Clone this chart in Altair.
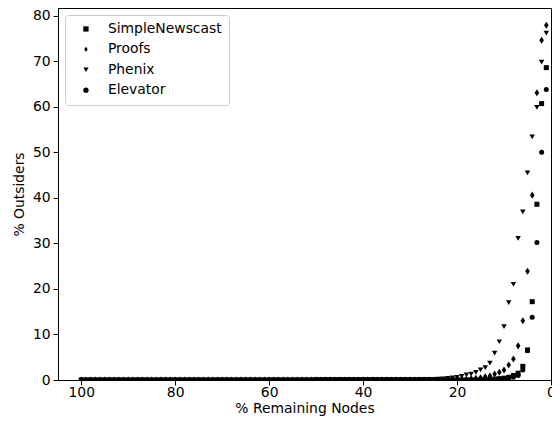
import altair as alt
import pandas as pd

# % remaining nodes (1 .. 100)
remaining = list(range(1, 101))

series_names = ["SimpleNewscast", "Proofs", "Phenix", "Elevator"]

newscast = [68.6, 60.7, 38.6, 17.2, 6.6, 3.0, 1.5, 1.0, 0.6, 0.4, 0.3, 0.2, 0.1, 0.05] + [0.0] * 86
proofs = [77.9, 74.6, 63.1, 40.6, 23.9, 13.0, 7.5, 4.6, 3.3, 2.2, 1.7, 1.3, 0.9, 0.7,
          0.5, 0.35, 0.25, 0.15, 0.1, 0.05] + [0.0] * 80
phenix = [76.2, 69.8, 59.9, 53.4, 45.5, 36.9, 31.1, 21.0, 17.0, 11.7, 8.4, 5.9, 3.7, 2.7,
          2.2, 1.7, 1.3, 1.1, 0.8, 0.6, 0.45, 0.35, 0.25, 0.2, 0.15,
          0.12, 0.12, 0.1, 0.1, 0.1, 0.1, 0.1, 0.1, 0.1, 0.1, 0.1, 0.1, 0.1, 0.1, 0.1,
          0.1, 0.1, 0.1, 0.1, 0.1, 0.1, 0.1, 0.1, 0.1, 0.1] + [0.0] * 50
elevator = [63.8, 50.0, 30.2, 13.8, 6.4, 2.2, 1.0, 0.6, 0.4, 0.25, 0.15, 0.1] + [0.0] * 88

x_ticks = [0, 20, 40, 60, 80, 100]
y_ticks = [0, 10, 20, 30, 40, 50, 60, 70, 80]

rows = []
for name, vals in zip(series_names, [newscast, proofs, phenix, elevator]):
    for x, v in zip(remaining, vals):
        rows.append({"remaining": x, "outsiders": v, "series": name})
df = pd.DataFrame(rows)

thin_diamond = "M0,-1L0.65,0L0,1L-0.65,0Z"
shapes = ["square", thin_diamond, "triangle-down", "circle"]
sizes = [25, 50, 30, 25]
FS = 13.9

legend_cfg = dict(title=None, orient="none", legendX=7, legendY=7,
                  labelFontSize=FS, labelFont="DejaVu Sans", labelColor="black",
                  symbolFillColor="black", symbolStrokeWidth=0, symbolSize=28,
                  symbolOffset=7, labelOffset=15,
                  rowPadding=5.4, padding=7,
                  strokeColor="#cccccc", fillColor="white", cornerRadius=3)

base = alt.Chart(df)
layers = []
for name, sz in zip(series_names, sizes):
    layers.append(
        base.transform_filter(alt.datum.series == name)
        .mark_point(filled=True, opacity=1, clip=True, strokeWidth=0, color="black", size=sz)
        .encode(
            x=alt.X("remaining:Q",
                    scale=alt.Scale(domain=[0, 104.95], reverse=True, nice=False, zero=False),
                    axis=alt.Axis(values=x_ticks, title="% Remaining Nodes", format="d")),
            y=alt.Y("outsiders:Q",
                    scale=alt.Scale(domain=[0, 81.7], nice=False),
                    axis=alt.Axis(values=y_ticks, title="% Outsiders", format="d")),
            shape=alt.Shape("series:N",
                            scale=alt.Scale(domain=series_names, range=shapes),
                            legend=alt.Legend(**legend_cfg)),
        )
    )

chart = alt.layer(*layers).properties(
    width=493, height=372,
    autosize=alt.AutoSizeParams(type="none"),
    padding={"left": 50, "top": 0, "right": 1, "bottom": 37},
).configure(font="DejaVu Sans").configure_view(
    stroke="black", strokeWidth=1
).configure_axis(
    grid=False, labelFontSize=FS, titleFontSize=FS, titleFontWeight="normal",
    labelColor="black", titleColor="black", domainColor="black", tickColor="black",
    tickSize=4.9, labelPadding=3, domainWidth=1, tickWidth=1, labelFont="DejaVu Sans",
    titleFont="DejaVu Sans",
).configure_axisX(titlePadding=2, labelPadding=1, labelFlush=False).configure_axisY(titlePadding=6, labelFlush=False)

chart.save("out.html", embed_options={"renderer": "svg", "actions": False})
